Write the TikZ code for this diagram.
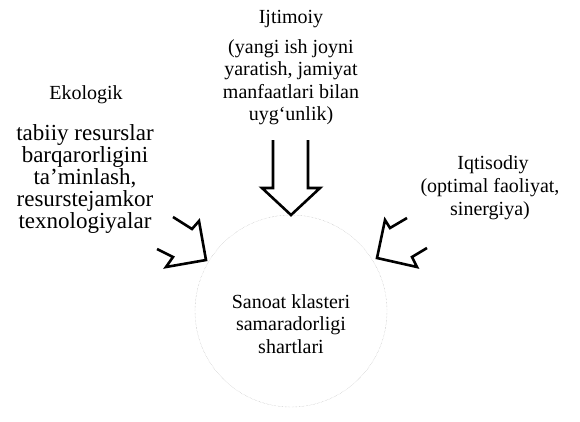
\documentclass[tikz,border=0pt]{standalone}
\usepackage{fontspec}
\setmainfont{Liberation Serif}
\usepackage{tikz}
\usetikzlibrary{positioning}

\tikzset{
  txt/.style={align=center, inner sep=0pt, font=\fontsize{20}{22.5}\selectfont},
  bigtxt/.style={align=center, inner sep=0pt, font=\fontsize{23}{22}\selectfont},
  blockarrow/.style={line width=2.6pt, line join=miter, black}
}

\begin{document}
\begin{tikzpicture}[x=1pt, y=-1pt]
        \useasboundingbox (0,0) rectangle (580,421);

        % Center circle
        \node[circle, draw=gray!60, densely dotted, thin, minimum size=192pt, inner sep=0pt] (klaster) at (291,311) {};
        \node[txt] (klastertxt) at (291,324) {Sanoat klasteri\\samaradorligi\\shartlari};

        % Ijtimoiy (top)
        \node[txt] (ijt) at (291,19) {Ijtimoiy};
        \node[txt] (ijtdesc) at (291,82) {(yangi ish joyni\\yaratish, jamiyat\\manfaatlari bilan\\uyg‘unlik)};

        % Ekologik (left)
        \node[txt] (eko) at (86,95) {Ekologik};
        \node[bigtxt] (ekodesc) at (85,179) {tabiiy resurslar\\barqarorligini\\ta’minlash,\\resurstejamkor\\texnologiyalar};

        % Iqtisodiy (right)
        \node[txt] (iqt) at (493,165) {Iqtisodiy};
        \node[txt] (iqtdesc) at (490,199) {(optimal faoliyat,\\sinergiya)};

        % Hollow arrows
        \draw[blockarrow] (273,140) -- (273,188) -- (262,188) -- (291,215) -- (320,188) -- (308,188) -- (308,140);
        \draw[blockarrow] (173,217) -- (192,229) -- (199,221) -- (206,260) -- (166,267) -- (173,257) -- (157,249);
        \draw[blockarrow] (407,218) -- (390,228) -- (385,220) -- (377,258) -- (417,267) -- (412,257) -- (427,248);
\end{tikzpicture}
\end{document}
